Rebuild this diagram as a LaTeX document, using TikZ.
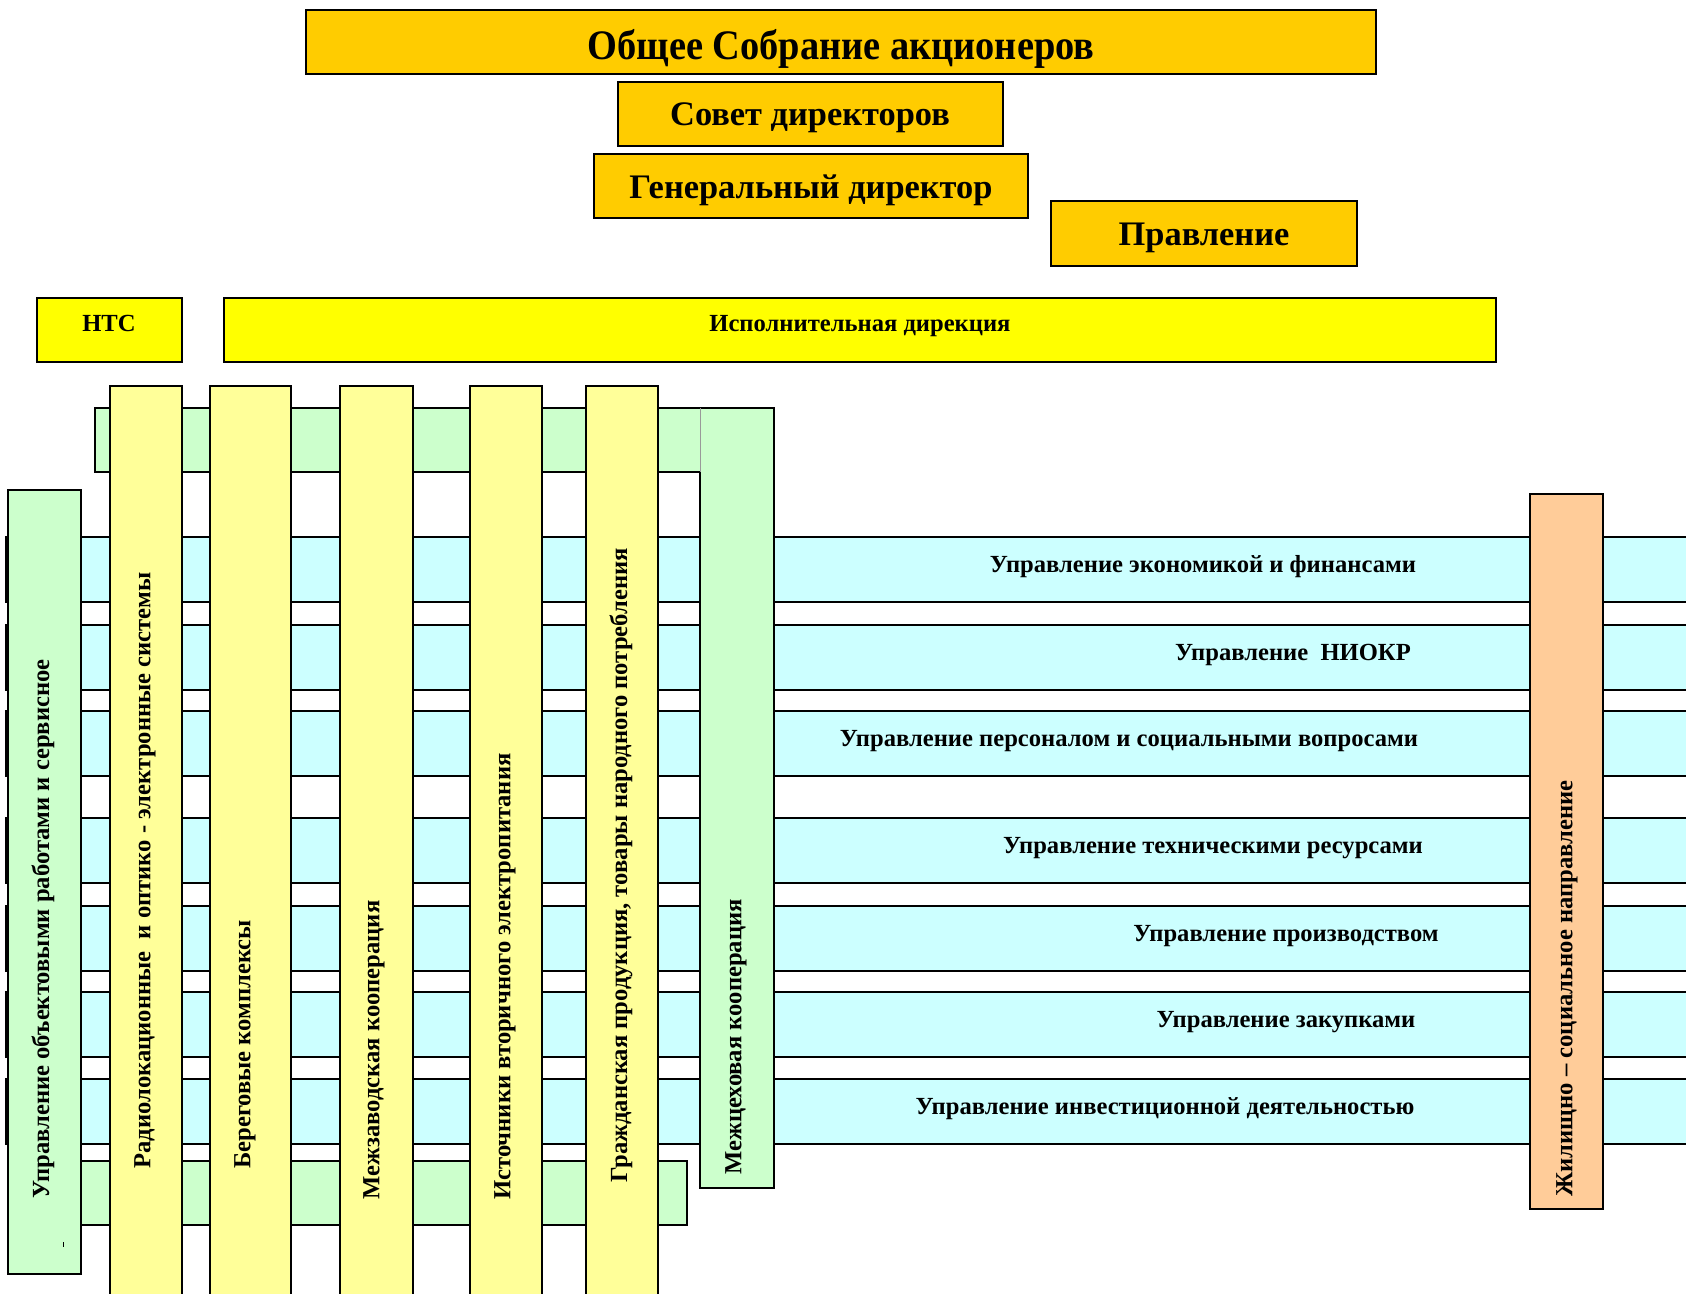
\documentclass[tikz,border=0pt]{standalone}
\usepackage{fontspec}
\setmainfont{Liberation Serif}
\definecolor{gold}{HTML}{FFCC00}
\definecolor{ylw}{HTML}{FFFF00}
\definecolor{paleyel}{HTML}{FFFF99}
\definecolor{palegreen}{HTML}{CCFFCC}
\definecolor{palecyan}{HTML}{CCFFFF}
\definecolor{paleorange}{HTML}{FFCC99}
\tikzset{
  bx/.style={draw=black, line width=1pt},
  toptxt/.style={font=\fontsize{17.2}{20}\selectfont\bfseries, inner sep=0pt},
  rowtxt/.style={font=\fontsize{12.3}{14}\selectfont\bfseries, inner sep=0pt, anchor=base},
  vtxt/.style={font=\fontsize{12.3}{14}\selectfont\bfseries, inner sep=0pt, rotate=90, anchor=west},
}
\begin{document}
\begin{tikzpicture}[x=0.5pt,y=-0.5pt]
\useasboundingbox (0,0) rectangle (1686,1294);
% cyan rows
\foreach \t in {537,625,711,818,906,992,1079}{
  \path[bx, fill=palecyan] (6,\t) rectangle (1700,\t+65);
}
% green horizontal bands
\path[bx, fill=palegreen] (95,408) rectangle (702,472);
\path[bx, fill=palegreen] (81,1161) rectangle (687,1225);
% left green column
\path[bx, fill=palegreen] (8,490) rectangle (81,1274);
% Межцеховая column
\fill[palegreen] (700,408) rectangle (774,1188);
\draw[line width=1pt] (700,472) -- (700,1188) -- (774,1188) -- (774,408) -- (700,408);
\draw[line width=0.3pt, black!40] (700,408) -- (700,472);
% yellow columns
\foreach \a/\b in {110/182,210/291,340/413,470/542,586/658}{
  \path[bx, fill=paleyel] (\a,386) rectangle (\b,1320);
}
% orange column
\path[bx, fill=paleorange] (1530,494) rectangle (1603,1209);
% top boxes
\path[bx, line width=1.3pt, fill=gold] (306,10) rectangle (1376,74);
\path[bx, line width=1.3pt, fill=gold] (618,82) rectangle (1003,146);
\path[bx, line width=1.3pt, fill=gold] (594,154) rectangle (1028,218);
\path[bx, line width=1.3pt, fill=gold] (1051,201) rectangle (1357,266);
\path[bx, fill=ylw] (37,298) rectangle (182,362);
\path[bx, fill=ylw] (224,298) rectangle (1496,362);
% top texts
\node[toptxt, font=\fontsize{21}{24}\selectfont\bfseries, xscale=0.914] (osa) at (841,49) {Общее Собрание акционеров};
\node[toptxt] (sd) at (810,118) {Совет директоров};
\node[toptxt] (gd) at (811,190) {Генеральный директор};
\node[toptxt] (pr) at (1204,238) {Правление};
\node[rowtxt] (nts) at (109,332) {НТС};
\node[rowtxt] (isp) at (860,332) {Исполнительная дирекция};
% row texts
\node[rowtxt] (r1) at (1203,572) {Управление экономикой и финансами};
\node[rowtxt] (r2) at (1293,660) {Управление\ \ НИОКР};
\node[rowtxt] (r3) at (1129,746) {Управление персоналом и социальными вопросами};
\node[rowtxt] (r4) at (1213,853) {Управление техническими ресурсами};
\node[rowtxt] (r5) at (1286,941) {Управление производством};
\node[rowtxt] (r6) at (1286,1027) {Управление закупками};
\node[rowtxt] (r7) at (1165,1114) {Управление инвестиционной деятельностью};
% vertical texts
\node[vtxt] (v0) at (43,1199) {Управление объектовыми работами и сервисное};
\node[vtxt] (v1) at (145,1169) {Радиолокационные\ \ и оптико - электронные системы};
\node[vtxt] (v2) at (245,1169) {Береговые комплексы};
\node[vtxt] (v3) at (374,1200) {Межзаводская кооперация};
\node[vtxt] (v4) at (505,1200) {Источники вторичного электропитания};
\node[vtxt] (v5) at (621,1183) {Гражданская продукция, товары народного потребления};
\node[vtxt] (v6) at (736,1175) {Межцеховая кооперация};
\node[vtxt] (v7) at (1567,1197) {Жилищно – социальное направление};
\draw[line width=0.4pt] (63,1242) -- (63,1247);
\end{tikzpicture}
\end{document}
